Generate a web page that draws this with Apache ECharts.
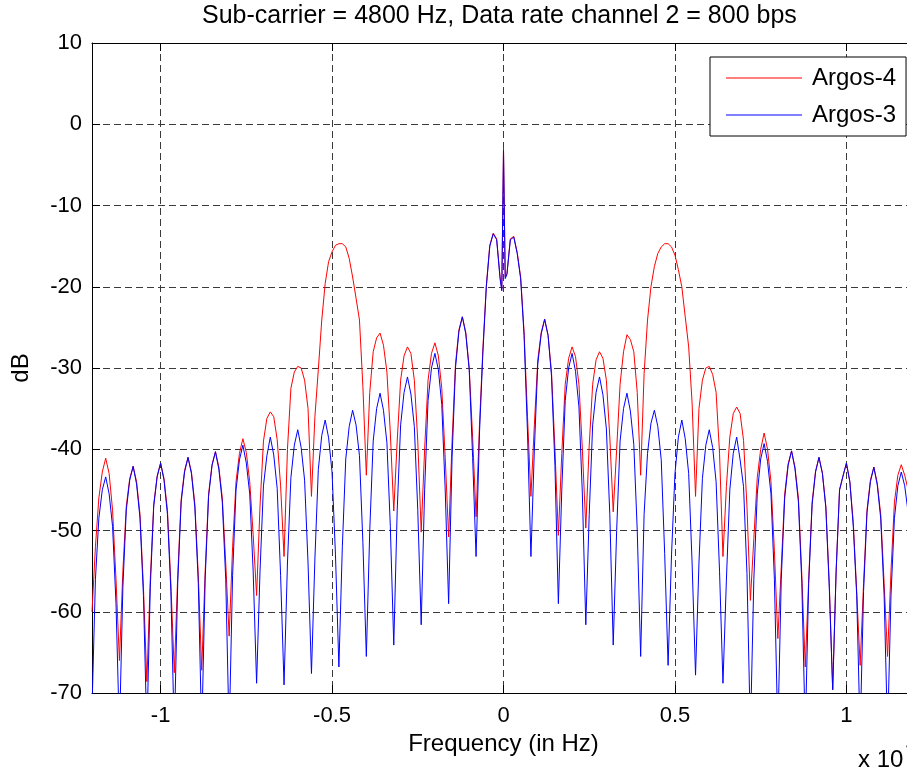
<!DOCTYPE html>
<html>
<head>
<meta charset="utf-8">
<script src="https://cdn.jsdelivr.net/npm/echarts@6/dist/echarts.min.js"></script>
<style>
  html, body { margin: 0; padding: 0; background: #fff; }
  #main { width: 907px; height: 772px; }
</style>
</head>
<body>
<div id="main"></div>
<script>
// frequency in units of 10^4 Hz
const freqs = [
  -1.20,
  -1.19, -1.18, -1.17, -1.16, -1.15, -1.14, -1.13, -1.12,
  -1.11, -1.10, -1.09, -1.08, -1.07, -1.06, -1.05, -1.04,
  -1.03, -1.02, -1.01, -1.00, -0.99, -0.98, -0.97, -0.96,
  -0.95, -0.94, -0.93, -0.92, -0.91, -0.90, -0.89, -0.88,
  -0.87, -0.86, -0.85, -0.84, -0.83, -0.82, -0.81, -0.80,
  -0.79, -0.78, -0.77, -0.76, -0.75, -0.74, -0.73, -0.72,
  -0.71, -0.70, -0.69, -0.68, -0.67, -0.66, -0.65, -0.64,
  -0.63, -0.62, -0.61, -0.60, -0.59, -0.58, -0.57, -0.56,
  -0.55, -0.54, -0.53, -0.52, -0.51, -0.50, -0.49, -0.48,
  -0.47, -0.46, -0.45, -0.44, -0.43, -0.42, -0.41, -0.40,
  -0.39, -0.38, -0.37, -0.36, -0.35, -0.34, -0.33, -0.32,
  -0.31, -0.30, -0.29, -0.28, -0.27, -0.26, -0.25, -0.24,
  -0.23, -0.22, -0.21, -0.20, -0.19, -0.18, -0.17, -0.16,
  -0.15, -0.14, -0.13, -0.12, -0.11, -0.10, -0.09, -0.08,
  -0.07, -0.06, -0.05, -0.04, -0.03, -0.02, -0.01, -0.005, 0, 0.005,
  0.01, 0.02, 0.03, 0.04, 0.05, 0.06, 0.07, 0.08,
  0.09, 0.10, 0.11, 0.12, 0.13, 0.14, 0.15, 0.16,
  0.17, 0.18, 0.19, 0.20, 0.21, 0.22, 0.23, 0.24,
  0.25, 0.26, 0.27, 0.28, 0.29, 0.30, 0.31, 0.32,
  0.33, 0.34, 0.35, 0.36, 0.37, 0.38, 0.39, 0.40,
  0.41, 0.42, 0.43, 0.44, 0.45, 0.46, 0.47, 0.48,
  0.49, 0.50, 0.51, 0.52, 0.53, 0.54, 0.55, 0.56,
  0.57, 0.58, 0.59, 0.60, 0.61, 0.62, 0.63, 0.64,
  0.65, 0.66, 0.67, 0.68, 0.69, 0.70, 0.71, 0.72,
  0.73, 0.74, 0.75, 0.76, 0.77, 0.78, 0.79, 0.80,
  0.81, 0.82, 0.83, 0.84, 0.85, 0.86, 0.87, 0.88,
  0.89, 0.90, 0.91, 0.92, 0.93, 0.94, 0.95, 0.96,
  0.97, 0.98, 0.99, 1.00, 1.01, 1.02, 1.03, 1.04,
  1.05, 1.06, 1.07, 1.08, 1.09, 1.10, 1.11, 1.12,
  1.13, 1.14, 1.15, 1.16, 1.17, 1.18, 1.19, 1.20
];

// Argos-4 (red), dB
const argos4 = [
  -60,
  -52, -46, -42.8, -41.1, -43, -47.5, -56, -66,
  -55, -47, -43.6, -42.1, -44, -48, -57, -68.6,
  -56, -46.8, -43.3, -41.7, -43.6, -47.5, -56.5, -67.5,
  -55.5, -46.2, -42.6, -41, -42.8, -46.8, -55.5, -67.2,
  -55, -45.5, -41.9, -40.3, -42.2, -46, -54, -63,
  -52, -44, -40.5, -38.7, -40.4, -44, -50.5, -58,
  -47, -39, -36.2, -35.4, -36, -38.8, -44.5, -53.2,
  -40, -32.5, -30.5, -29.8, -30, -31.5, -35, -45.8,
  -36, -30.2, -24.1, -19.6, -16.9, -15.7, -14.9, -14.7,
  -14.7, -15.1, -16.5, -18.8, -21.4, -24.1, -32.3, -43.2,
  -33, -28, -26.3, -25.7, -27.2, -30.5, -38, -47.6,
  -39, -31.5, -28.5, -27.4, -28.2, -31.5, -39, -50.2,
  -40, -31.5, -28.2, -26.9, -28.5, -32.5, -41, -50.8,
  -39, -29.5, -25.3, -23.7, -25.6, -30, -38.5, -48.3,
  -37, -27.5, -19.8, -14.9, -13.4, -14.1, -18.8, -20.3, -3.0, -18.8,
  -18.4, -14.1, -13.8, -15.8, -18.8, -25.5, -36, -45.8,
  -37, -29, -25.6, -24, -26, -30.5, -40, -50.6,
  -40.5, -32, -28.8, -27.4, -28.6, -32, -40, -49.7,
  -39.5, -32, -29, -28, -28.8, -31.5, -38.5, -47.7,
  -40, -32, -28, -25.9, -26.5, -28, -33, -43.2,
  -30.7, -24.1, -20, -17.5, -15.9, -15.1, -14.7, -14.7,
  -15.1, -16.1, -17.9, -20, -23.7, -27.4, -34.3, -45.8,
  -35, -31.5, -30, -29.8, -30.8, -33, -40.5, -53.2,
  -44.6, -38.5, -35.6, -34.8, -35.6, -38.9, -47.1, -58.6,
  -51, -43.5, -40, -38, -40, -44, -52.5, -63.3,
  -54.5, -45.5, -41.8, -40.2, -42.2, -46, -55.5, -66.8,
  -56, -46.5, -42.7, -41, -42.9, -47, -56.5, -69.6,
  -55, -45, -43.3, -41.7, -44, -49, -57.5, -66.6,
  -56.5, -47.5, -43.8, -42.2, -44.2, -48, -56.5, -65.5,
  -55, -46.5, -43.2, -41.9, -43.2, -45, -54, -64
];

// Argos-3 (blue), dB
const argos3 = [
  -72,
  -56, -48.5, -45, -43.4, -45.5, -49.5, -59, -75,
  -57, -47.5, -43.8, -42.1, -44.3, -48.5, -58, -75,
  -57, -47, -43.4, -41.7, -43.8, -48, -57.5, -75,
  -56.5, -46.5, -42.8, -41, -43, -47.2, -56.5, -75,
  -56, -45.8, -42, -40.3, -42.5, -46.5, -56, -75,
  -55.5, -45, -41.3, -39.5, -41.7, -45.5, -55, -68.8,
  -55, -44.5, -40.8, -38.5, -40.7, -44.8, -55.5, -69,
  -54, -43.5, -39.5, -37.6, -39.8, -43.8, -54, -67.6,
  -53.5, -42.5, -38.3, -36.4, -38.6, -42.8, -53, -66.8,
  -52, -41.2, -37.2, -35.2, -37, -40.8, -51.5, -65.5,
  -50, -39, -35, -33.1, -35.2, -39.2, -49.5, -64.1,
  -47.5, -37, -33, -31.1, -33.2, -37.2, -47.5, -61.6,
  -45, -34, -30, -28.2, -30.2, -34.5, -45, -59,
  -41, -30, -25.5, -23.7, -25.8, -30.2, -41, -53.2,
  -38, -28, -20, -15, -13.5, -14.2, -19, -20.5, -3.2, -19,
  -18.5, -14.2, -13.9, -15.9, -19, -26, -38, -53.2,
  -40, -29.5, -25.8, -24, -26, -31, -42, -59,
  -45, -34, -30, -28.2, -30.4, -34.8, -45.5, -61.6,
  -48, -37, -33, -31.1, -33.3, -37.5, -48, -64.1,
  -50, -39, -35, -33.1, -35.3, -39.4, -50, -65.5,
  -48, -40.5, -36.8, -35.2, -37.2, -41.3, -52.8, -66.6,
  -53, -43, -38.5, -36.4, -38.7, -43, -54, -67.8,
  -54, -43.6, -39.5, -37.6, -39.8, -44, -55, -68.8,
  -56.1, -45, -40.5, -38.5, -41.3, -44.6, -55.3, -75,
  -56, -45.5, -41.2, -39.3, -41.5, -45.5, -56, -75,
  -56, -46, -42, -40.2, -42.4, -46.5, -56.5, -75,
  -56.5, -46.8, -42.8, -41, -43, -47.2, -57, -69.6,
  -55, -45, -43.3, -41.7, -44, -49.5, -58, -75,
  -57.5, -47.8, -44, -42.2, -44.4, -48.5, -58, -75,
  -58, -48.5, -44.5, -42.8, -44.5, -47.8, -57, -72
];

const font = '"Liberation Sans", Arial, Helvetica, sans-serif';
const chart = echarts.init(document.getElementById('main'));

// dashed grid like the matlab figure
const gridLine = { show: true, lineStyle: { color: '#3a3a3a', width: 1, type: [7, 4] } };
const edgeLine = { show: true, onZero: false, lineStyle: { color: '#000', width: 1 } };
const inTick = { show: true, inside: true, length: 8, lineStyle: { color: '#000' } };

const option = {
  animation: false,
  backgroundColor: '#fff',
  title: {
    text: 'Sub-carrier = 4800 Hz, Data rate channel 2 = 800 bps',
    left: 202,
    top: 4,
    padding: 0,
    textStyle: { fontSize: 25, fontWeight: 'normal', color: '#000', fontFamily: font }
  },
  legend: {
    data: ['Argos-4', 'Argos-3'],
    orient: 'vertical',
    left: 710,
    top: 57,
    padding: [9, 10, 9, 16],
    itemGap: 13,
    icon: 'rect',
    itemWidth: 76,
    itemHeight: 1,
    borderColor: '#000',
    borderWidth: 1,
    backgroundColor: '#fff',
    textStyle: { fontSize: 24, lineHeight: 24, color: '#000', fontFamily: font, padding: [0, 0, 0, 5] }
  },
  grid: { left: 92, top: 43, width: 823, height: 650, outerBoundsMode: 'none', containLabel: false },
  xAxis: [
    {
      type: 'value', min: -1.2, max: 1.2, position: 'bottom',
      axisLine: edgeLine, axisTick: inTick, splitLine: gridLine,
      axisLabel: { showMinLabel: false, showMaxLabel: false, color: '#000', fontSize: 22, margin: 12, fontFamily: font },
      name: 'Frequency (in Hz)', nameLocation: 'middle', nameGap: 36,
      nameTextStyle: { fontSize: 24, color: '#000', fontFamily: font }
    },
    {
      type: 'value', min: -1.2, max: 1.2, position: 'top',
      axisLine: edgeLine, axisTick: inTick, axisLabel: { show: false }, splitLine: { show: false }
    }
  ],
  yAxis: [
    {
      type: 'value', min: -70, max: 10, interval: 10, position: 'left',
      axisLine: edgeLine, axisTick: inTick, splitLine: gridLine,
      axisLabel: { color: '#000', fontSize: 22, margin: 10, fontFamily: font },
      name: 'dB', nameLocation: 'middle', nameGap: 59,
      nameTextStyle: { fontSize: 24, color: '#000', fontFamily: font }
    },
    {
      type: 'value', min: -70, max: 10, interval: 10, position: 'right',
      axisLine: edgeLine, axisTick: inTick, axisLabel: { show: false }, splitLine: { show: false }
    }
  ],
  graphic: [
    { type: 'text', left: 858, top: 748, style: { text: 'x 10', font: '24px ' + font, fill: '#000' } },
    { type: 'text', left: 906, top: 738, style: { text: '4', font: '16px ' + font, fill: '#000' } }
  ],
  series: [
    {
      name: 'Argos-4', type: 'line', symbol: 'none', clip: true,
      data: freqs.map((f, i) => [f, argos4[i]]),
      lineStyle: { color: '#ff0000', width: 1 }, itemStyle: { color: '#ff0000' }
    },
    {
      name: 'Argos-3', type: 'line', symbol: 'none', clip: true,
      data: freqs.map((f, i) => [f, argos3[i]]),
      lineStyle: { color: '#0000ff', width: 1 }, itemStyle: { color: '#0000ff' }
    }
  ]
};

chart.setOption(option);
</script>
</body>
</html>
